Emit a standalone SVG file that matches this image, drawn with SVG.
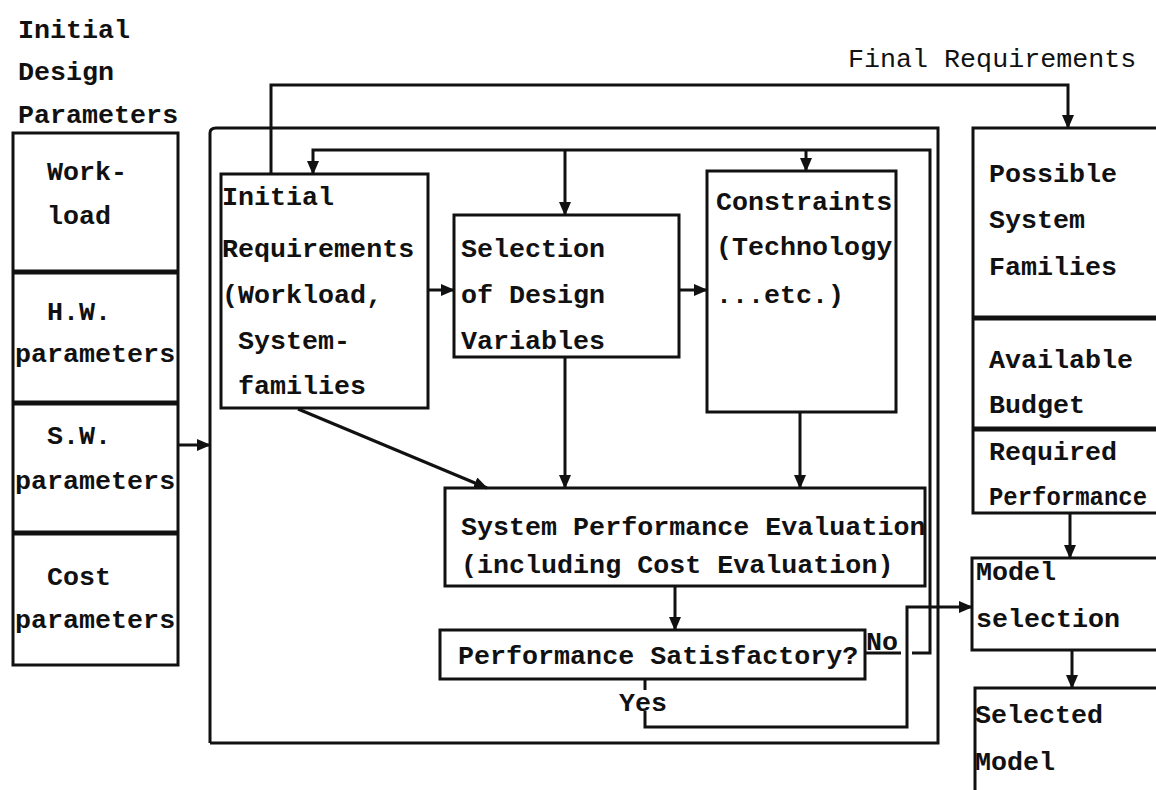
<svg xmlns="http://www.w3.org/2000/svg" width="1156" height="790" viewBox="0 0 1156 790">
<defs>
<style>
.t{font-family:"Liberation Mono","Courier New",monospace;font-size:26.7px;font-weight:bold;fill:#111}
.tl{font-family:"Liberation Mono","Courier New",monospace;font-size:26.7px;font-weight:normal;fill:#111}
.b{fill:#fff;stroke:#111;stroke-width:3}
.d{stroke:#111;stroke-width:5;fill:none}
.c{stroke:#111;stroke-width:3;fill:none}
.a{stroke:#111;stroke-width:3;fill:none;marker-end:url(#ah)}
</style>
<marker id="ah" viewBox="0 0 14 12" refX="13" refY="6" markerWidth="14" markerHeight="12" markerUnits="userSpaceOnUse" orient="auto">
<path d="M0,0 L14,6 L0,12 z" fill="#111"/>
</marker>
</defs>
<rect width="1156" height="790" fill="#fff"/>

<g id="labels">
<text class="t" x="18" y="38">Initial</text>
<text class="t" x="18" y="80">Design</text>
<text class="t" x="18" y="123">Parameters</text>
<text class="tl" x="848" y="67">Final Requirements</text>
</g>

<g id="outer-box">
<path class="c" d="M210,743 L210,133 Q210,128 216,128 L938,128 L938,743 L210,743"/>
</g>

<g id="design-parameters">
<rect class="b" x="13" y="133" width="165" height="532"/>
<line class="d" x1="13" y1="272" x2="178" y2="272"/>
<line class="d" x1="13" y1="403" x2="178" y2="403"/>
<line class="d" x1="13" y1="533" x2="178" y2="533"/>
<text class="t" x="47" y="180">Work-</text>
<text class="t" x="47" y="224">load</text>
<text class="t" x="47" y="320">H.W.</text>
<text class="t" x="15" y="362">parameters</text>
<text class="t" x="47" y="444">S.W.</text>
<text class="t" x="15" y="489">parameters</text>
<text class="t" x="47" y="585">Cost</text>
<text class="t" x="15" y="628">parameters</text>
</g>

<g id="initial-requirements">
<rect class="b" x="221" y="174" width="207" height="234"/>
<text class="t" x="222" y="205">Initial</text>
<text class="t" x="222" y="257">Requirements</text>
<text class="t" x="222" y="303">(Workload,</text>
<text class="t" x="222" y="349" xml:space="preserve"> System-</text>
<text class="t" x="222" y="394" xml:space="preserve"> families</text>
</g>

<g id="selection">
<rect class="b" x="454" y="215" width="225" height="142"/>
<text class="t" x="461" y="257">Selection</text>
<text class="t" x="461" y="303">of Design</text>
<text class="t" x="461" y="349">Variables</text>
</g>

<g id="constraints">
<rect class="b" x="707" y="171" width="189" height="241"/>
<text class="t" x="716" y="210">Constraints</text>
<text class="t" x="716" y="255">(Technology</text>
<text class="t" x="716" y="303">...etc.)</text>
</g>

<g id="system-performance">
<rect class="b" x="445" y="488" width="480" height="98"/>
<text class="t" x="461" y="535">System Performance Evaluation</text>
<text class="t" x="461" y="573">(including Cost Evaluation)</text>
</g>

<g id="performance-satisfactory">
<rect class="b" x="440" y="630" width="425" height="49"/>
<text class="t" x="458" y="664">Performance Satisfactory?</text>
</g>

<g id="possible-families">
<rect class="b" x="973" y="128" width="200" height="385"/>
<line class="d" x1="973" y1="318" x2="1173" y2="318"/>
<line class="d" x1="973" y1="429" x2="1173" y2="429"/>
<text class="t" x="989" y="182">Possible</text>
<text class="t" x="989" y="228">System</text>
<text class="t" x="989" y="275">Families</text>
<text class="t" x="989" y="368">Available</text>
<text class="t" x="989" y="413">Budget</text>
<text class="t" x="989" y="460">Required</text>
<text class="t" x="989" y="505" textLength="158" lengthAdjust="spacingAndGlyphs">Performance</text>
</g>

<g id="model-selection">
<rect class="b" x="972" y="558" width="200" height="92"/>
<text class="t" x="976" y="580">Model</text>
<text class="t" x="976" y="627">selection</text>
</g>

<g id="selected-model">
<rect class="b" x="975" y="688" width="200" height="120"/>
<text class="t" x="975" y="723">Selected</text>
<text class="t" x="975" y="770">Model</text>
</g>

<g id="connectors">
<path class="a" d="M271,174 L271,85 L1068,85 L1068,128"/>
<path class="a" d="M912,653 L930,653 L930,150 L313,150 L313,174"/>
<path class="a" d="M565,150 L565,215"/>
<path class="a" d="M806,150 L806,171"/>
<path class="c" d="M865,653 L901,653"/>
<path class="a" d="M428,290 L454,290"/>
<path class="a" d="M679,290 L707,290"/>
<path class="a" d="M565,357 L565,488"/>
<path class="a" d="M800,412 L800,488"/>
<path class="a" d="M298,409 L487,488"/>
<path class="a" d="M675,586 L675,630"/>
<path class="c" d="M645,679 L645,690"/>
<path class="a" d="M645,711 L645,727 L907,727 L907,607 L972,607"/>
<path class="a" d="M178,445 L210,445"/>
<path class="a" d="M1070,513 L1070,558"/>
<path class="a" d="M1072,650 L1072,688"/>
</g>

<g id="edge-labels">
<text class="t" x="866" y="650">No</text>
<text class="t" x="619" y="711">Yes</text>
</g>
</svg>
